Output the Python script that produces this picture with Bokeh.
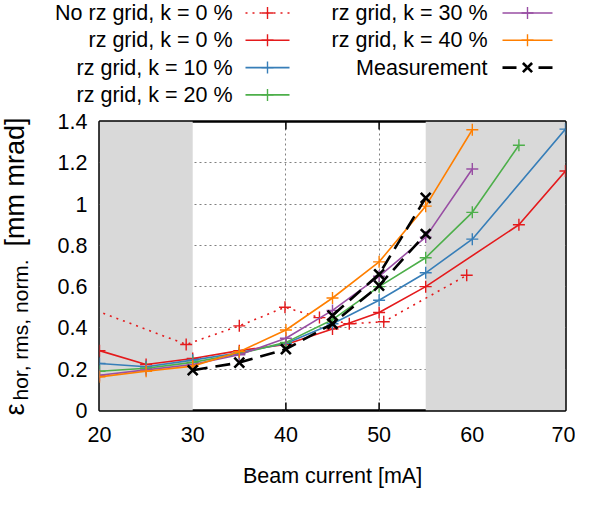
import math
from bokeh.plotting import figure
from bokeh.models import Range1d, FixedTicker, BoxAnnotation
from bokeh.layouts import column, row
from bokeh.embed import file_html
from bokeh.resources import INLINE
from bokeh.core.properties import value

FONT = "Liberation Sans"

# ---------------- data ----------------
x_norz = [19, 29.3, 35, 39.9, 43.6, 46.8, 50.5, 59.4]
y_norz = [0.495, 0.32, 0.41, 0.50, 0.45, 0.42, 0.43, 0.655]

x_k0 = [20, 25, 30, 35, 40, 45, 50, 55, 65, 70]
y_k0 = [0.29, 0.223, 0.252, 0.29, 0.32, 0.395, 0.475, 0.60, 0.90, 1.16]

x_k10 = [20, 25, 30, 35, 40, 45, 50, 55, 60, 70]
y_k10 = [0.228, 0.212, 0.244, 0.28, 0.325, 0.42, 0.534, 0.667, 0.83, 1.363]

x_k20 = [20, 25, 30, 35, 40, 45, 50, 55, 60, 65]
y_k20 = [0.19, 0.205, 0.233, 0.275, 0.33, 0.44, 0.60, 0.74, 0.96, 1.285]

x_k30 = [20, 25, 30, 35, 40, 45, 50, 55, 60]
y_k30 = [0.171, 0.197, 0.223, 0.27, 0.35, 0.485, 0.65, 0.84, 1.17]

x_k40 = [20, 25, 30, 35, 40, 45, 50, 55, 60]
y_k40 = [0.163, 0.19, 0.215, 0.285, 0.39, 0.545, 0.72, 0.99, 1.36]

# measurement: two runs (second run only at high current)
x_meas_a = [30, 35, 40, 45, 50, 55]
y_meas_a = [0.195, 0.232, 0.297, 0.42, 0.605, 0.855]
x_meas_b = [45, 50, 55]
y_meas_b = [0.46, 0.66, 1.03]

x_ticks = [20, 30, 40, 50, 60, 70]
y_ticks = [0, 0.2, 0.4, 0.6, 0.8, 1.0, 1.2, 1.4]
y_tick_labels = ["0", "0.2", "0.4", "0.6", "0.8", "1", "1.2", "1.4"]
grid_x = [40, 50]
grid_y = [0.2, 0.4, 0.6, 0.8, 1.0, 1.2]
shaded = [(20, 30), (55, 70)]

series = [
    ("No rz grid, k = 0 %", x_norz, y_norz, "#e41a1c", "2 5"),
    ("rz grid, k = 0 %", x_k0, y_k0, "#e41a1c", "solid"),
    ("rz grid, k = 10 %", x_k10, y_k10, "#377eb8", "solid"),
    ("rz grid, k = 20 %", x_k20, y_k20, "#4daf4a", "solid"),
    ("rz grid, k = 30 %", x_k30, y_k30, "#984ea3", "solid"),
    ("rz grid, k = 40 %", x_k40, y_k40, "#ff7f00", "solid"),
]
meas_label = "Measurement"
x_label = "Beam current [mA]"
y_label_main, y_label_sub, y_label_unit = "ε", "hor, rms, norm.", "[mm mrad]"

W, H = 575, 489
LEG_H = 108
YL_W = 45
MAIN_H = 342
XL_H = H - LEG_H - MAIN_H
CW = W - YL_W
TXT = "21.5px"

# ---------------- main plot ----------------
p = figure(width=CW, height=MAIN_H, x_range=Range1d(20, 70), y_range=Range1d(0, 1.4),
           output_backend="svg", toolbar_location=None,
           min_border_left=54, min_border_right=10, min_border_top=13, min_border_bottom=40)
p.frame_align = False
p.background_fill_color = "white"
p.border_fill_color = "white"
p.outline_line_color = "black"
p.outline_line_width = 2.5

p.xaxis.ticker = FixedTicker(ticks=x_ticks)
p.yaxis.ticker = FixedTicker(ticks=y_ticks)
p.yaxis.major_label_overrides = {t: l for t, l in zip(y_ticks, y_tick_labels)}
for ax in (p.xaxis[0], p.yaxis[0]):
    ax.major_tick_in = 0
    ax.major_tick_out = 0
    ax.minor_tick_in = 0
    ax.minor_tick_out = 0
    ax.axis_line_color = None
    ax.major_label_text_font = FONT
    ax.major_label_text_font_size = TXT
    ax.major_label_text_color = "black"
p.xaxis.major_label_standoff = 16
p.yaxis.major_label_standoff = 12

p.xgrid.ticker = FixedTicker(ticks=grid_x)
p.ygrid.ticker = FixedTicker(ticks=grid_y)
for g in (p.xgrid[0], p.ygrid[0]):
    g.grid_line_color = "#808080"
    g.grid_line_dash = "2 3"
    g.grid_line_width = 1

for (a, b) in shaded:
    p.add_layout(BoxAnnotation(left=a, right=b, bottom=0, top=1.4, fill_color="#d9d9d9",
                               fill_alpha=1, line_alpha=0, level="underlay"))

# inward tick marks (visible only in the white region, at the grid positions)
tick_len = 8 / 206.4
p.segment(x0=grid_x, y0=[0] * len(grid_x), x1=grid_x, y1=[tick_len] * len(grid_x),
          line_color="black", line_width=1.5)
p.segment(x0=grid_x, y0=[1.4] * len(grid_x), x1=grid_x, y1=[1.4 - tick_len] * len(grid_x),
          line_color="black", line_width=1.5)

for name, xs, ys, col, dash in series:
    p.line(xs, ys, line_color=col, line_width=1.6, line_dash=dash)
    p.scatter(xs, ys, marker="cross", size=12, line_color=col, line_width=1.4)

for xs, ys in ((x_meas_a, y_meas_a), (x_meas_b, y_meas_b)):
    p.line(xs, ys, line_color="black", line_width=2.6, line_dash="15 8")
    p.scatter(xs, ys, marker="x", size=14, line_color="black", line_width=2.6)

def strip(width, height, flip=True):
    f = figure(width=width, height=height, x_range=Range1d(0, width),
               y_range=Range1d(height, 0) if flip else Range1d(0, height),
               output_backend="svg", toolbar_location=None, min_border=0)
    f.frame_align = False
    f.outline_line_color = None
    f.axis.visible = False
    f.grid.visible = False
    return f

# ---------------- rotated y label strip (full height, y measured upward) ----------------
yl = strip(YL_W, H, flip=False)
yl.text(x=[14.5], y=[H - 415], text=[y_label_main], angle=math.pi / 2, text_align="left",
        text_baseline="middle", text_font=value(FONT), text_font_size="27px",
        text_color="black")
yl.text(x=[19.5], y=[H - 400], text=[y_label_sub], angle=math.pi / 2, text_align="left",
        text_baseline="middle", text_font=value(FONT), text_font_size="21px",
        text_color="black")
yl.text(x=[14.5], y=[H - 246], text=[y_label_unit], angle=math.pi / 2, text_align="left",
        text_baseline="middle", text_font=value(FONT), text_font_size="27px",
        text_color="black")

# ---------------- x label strip below the plot ----------------
xl = strip(CW, XL_H)
xl.text(x=[(54 + CW - 10) / 2], y=[XL_H - 14], text=[x_label], text_align="center",
        text_baseline="middle", text_font=value(FONT), text_font_size=TXT, text_color="black")

# ---------------- legend strip above the plot ----------------
lf = strip(CW, LEG_H)
cols = [(187, 200, 244), (442, 457, 507)]
row_line_y = [12.5 + 27.3 * i for i in range(4)]
slots = [(0, 0), (0, 1), (0, 2), (0, 3), (1, 0), (1, 1), (1, 2)]
for (name, _, _, col, dash), (c, r) in zip(series, slots):
    tx, s0, s1 = cols[c]
    y = row_line_y[r]
    lf.text(x=[tx], y=[y], text=[name], text_align="right", text_baseline="middle",
            text_font=value(FONT), text_font_size=TXT, text_color="black")
    lf.line([s0, s1], [y, y], line_color=col, line_width=1.6, line_dash=dash)
    lf.scatter([(s0 + s1) / 2], [y], marker="cross", size=12, line_color=col, line_width=1.4)

c, r = slots[6]
tx, s0, s1 = cols[c]
y = row_line_y[r]
lf.text(x=[tx], y=[y], text=[meas_label], text_align="right", text_baseline="middle",
        text_font=value(FONT), text_font_size=TXT, text_color="black")
mid = (s0 + s1) / 2
lf.segment(x0=[s0, mid + 11], y0=[y, y], x1=[mid - 11, s1], y1=[y, y],
           line_color="black", line_width=2.6)
lf.scatter([mid], [y], marker="x", size=13, line_color="black", line_width=2.6)

layout = row(yl, column(lf, p, xl, spacing=0), spacing=0)
open("out.html", "w").write(file_html(layout, INLINE))
